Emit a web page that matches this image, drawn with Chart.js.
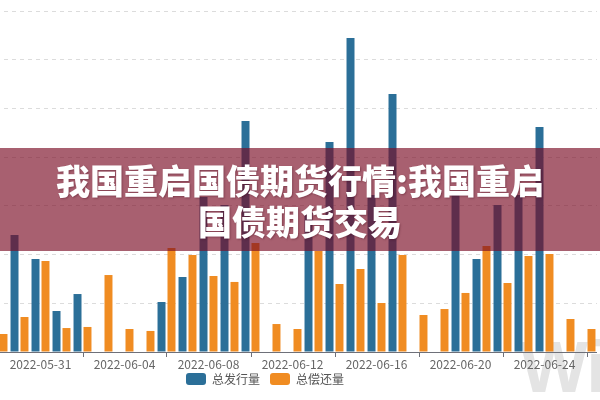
<!DOCTYPE html>
<html>
<head>
<meta charset="utf-8">
<script src="https://cdn.jsdelivr.net/npm/chart.js@4"></script>
<style>
  html, body { margin: 0; padding: 0; background: #fff; }
  body { width: 600px; height: 400px; position: relative; overflow: hidden; }
  #wm { position: absolute; left: 520px; top: 326px; font: bold 72px "Liberation Sans", Arial, sans-serif; color: #e4e4e4; z-index: 0; letter-spacing: -1px; }
  #wrap { position: absolute; left: -67px; top: 0; width: 664px; height: 400px; z-index: 1; }
  #banner { position: absolute; left: 0; top: 148px; width: 600px; height: 103px; background: rgba(121, 11, 35, 0.65); z-index: 2;
    display: flex; align-items: center; justify-content: center; }
  #banner div { color: #fff; font-family: "Noto Sans CJK SC", sans-serif; font-weight: 900; font-size: 34px; line-height: 41px; text-align: center;
    text-shadow: 1px 1px 2px rgba(60,0,20,0.35); }
</style>
</head>
<body>
<div id="wm">Wind</div>
<div id="wrap"><canvas id="c" width="664" height="400"></canvas></div>
<div id="banner"><div>我国重启国债期货行情:我国重启<br>国债期货交易</div></div>
<script>
const categories = ['2022-05-29','2022-05-30','2022-05-31','2022-06-01','2022-06-02','2022-06-03','2022-06-04','2022-06-05',
  '2022-06-06','2022-06-07','2022-06-08','2022-06-09','2022-06-10','2022-06-11','2022-06-12','2022-06-13','2022-06-14',
  '2022-06-15','2022-06-16','2022-06-17','2022-06-18','2022-06-19','2022-06-20','2022-06-21','2022-06-22','2022-06-23',
  '2022-06-24','2022-06-25','2022-06-26'];
const issuance = [null,1201,955,421,595,null,null,null,513,770,1591,1509,2371,null,null,1437,2156,3223,1612,2648,null,null,1612,955,1509,1612,2310,null,null];
const repayment = [185,359,934,246,257,790,236,216,1068,996,780,719,1119,287,236,1037,698,852,503,996,380,441,606,1088,708,985,1006,339,236];
const seriesNames = ['总发行量','总偿还量'];
const labelEvery = 4, labelStart = 2, tickStart = 4;

const tickMarks = {
  id: 'tickMarks',
  afterLayout(chart) {
    // let the tick labels overflow the (compressed) axis box instead of being clipped
    const xs = chart.scales.x;
    xs.bottom = xs.top + 24;
  },
  afterDraw(chart) {
    const xs = chart.scales.x, ctx = chart.ctx, b = chart.chartArea.bottom;
    ctx.save();
    ctx.strokeStyle = '#6E7079';
    ctx.lineWidth = 1;
    for (let i = tickStart; i < categories.length; i += labelEvery) {
      const x = Math.round(xs.getPixelForValue(i)) + 0.5;
      ctx.beginPath(); ctx.moveTo(x, b); ctx.lineTo(x, b + 5); ctx.stroke();
    }
    ctx.restore();
  }
};

new Chart(document.getElementById('c'), {
  type: 'bar',
  data: {
    labels: categories,
    datasets: [
      { label: seriesNames[0], data: issuance, backgroundColor: '#2b6f98', categoryPercentage: 0.95, barPercentage: 0.8 },
      { label: seriesNames[1], data: repayment, backgroundColor: '#f08c22', categoryPercentage: 0.95, barPercentage: 0.8 }
    ]
  },
  options: {
    responsive: false,
    animation: false,
    devicePixelRatio: 1,
    layout: { padding: { top: 11, right: 0, bottom: 5, left: 0 } },
    plugins: {
      tooltip: { enabled: false },
      legend: {
        position: 'bottom',
        labels: { boxWidth: 20, boxHeight: 12, useBorderRadius: true, borderRadius: 3, padding: 10,
          color: '#555', font: { size: 12, family: '"Noto Sans CJK SC", sans-serif' } }
      }
    },
    scales: {
      x: {
        grid: { display: false, drawTicks: false },
        border: { display: true, color: '#6E7079', width: 1 },
        ticks: {
          autoSkip: false, maxRotation: 0, minRotation: 0, padding: 5, color: '#666',
          font: { size: 12, family: '"Noto Sans CJK SC", sans-serif' },
          callback: (v, i) => ((i - labelStart) % labelEvery === 0 ? categories[i] : '')
        },
        afterFit: s => { s.height = 11; }
      },
      y: {
        min: 0, max: 3500,
        ticks: { display: false, stepSize: 500 },
        grid: { drawTicks: false, color: c => (c.tick && c.tick.value === 0 ? 'rgba(0,0,0,0)' : '#dcdcdc') },
        border: { display: false, dash: [4, 4] },
        afterFit: s => { s.width = 55; }
      }
    }
  },
  plugins: [tickMarks]
});
</script>
</body>
</html>
